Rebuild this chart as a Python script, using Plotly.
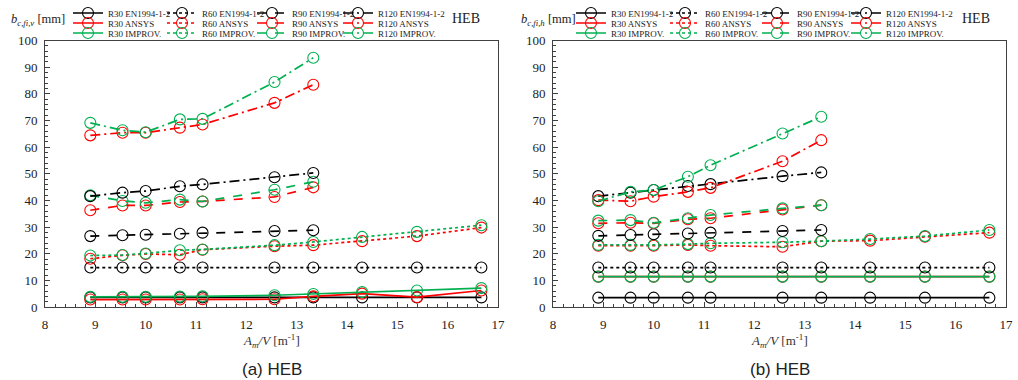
import plotly.graph_objects as go

# ---------------- data ----------------
X10 = [8.9, 9.54, 10.0, 10.68, 11.13, 12.56, 13.33, 14.3, 15.39, 16.67]
X7 = [8.9, 9.54, 10.0, 10.68, 11.13, 12.56, 13.33]

# (a) vertical direction  b_c,fi,v
R30_EN_v = [3.6, 3.6, 3.6, 3.6, 3.6, 3.6, 3.6, 3.6, 3.6, 3.6]
R30_ANSYS_v = [2.8, 2.8, 2.8, 2.8, 2.9, 2.9, 4.0, 5.0, 3.7, 6.2]
R30_IMP_v = [3.8, 3.8, 3.8, 3.9, 4.0, 4.4, 4.9, 5.6, 6.2, 7.1]
R60_EN_v = [14.8, 14.8, 14.8, 14.8, 14.8, 14.8, 14.8, 14.8, 14.8, 14.8]
R60_ANSYS_v = [18.1, 19.4, 19.9, 19.6, 21.5, 22.8, 23.2, 24.7, 26.6, 29.8]
R60_IMP_v = [19.3, 19.5, 20.1, 21.3, 21.6, 23.2, 24.4, 26.3, 28.2, 30.7]
R90_EN_v = [26.6, 26.9, 27.1, 27.5, 27.9, 28.5, 28.8]
R90_ANSYS_v = [36.3, 38.1, 38.1, 39.4, 39.6, 41.3, 44.9]
R90_IMP_v = [41.9, 39.8, 39.1, 40.3, 39.6, 44.0, 47.0]
R120_EN_v = [41.6, 42.9, 43.5, 45.3, 46.0, 48.7, 50.3]
R120_ANSYS_v = [64.4, 65.4, 65.4, 67.3, 68.5, 76.6, 83.4]
R120_IMP_v = [69.1, 66.3, 65.6, 70.4, 70.6, 84.4, 93.5]

# (b) horizontal direction  b_c,fi,h
R30_EN_h = [3.5, 3.5, 3.5, 3.5, 3.5, 3.5, 3.5, 3.5, 3.5, 3.5]
R30_ANSYS_h = [11.4, 11.4, 11.4, 11.4, 11.4, 11.4, 11.4, 11.4, 11.4, 11.4]
R30_IMP_h = [11.4, 11.4, 11.4, 11.4, 11.4, 11.4, 11.4, 11.4, 11.4, 11.4]
R60_EN_h = [14.8, 14.8, 14.8, 14.8, 14.8, 14.8, 14.8, 14.8, 14.8, 14.8]
R60_ANSYS_h = [23.0, 23.0, 23.0, 23.3, 23.0, 22.6, 24.7, 24.9, 26.4, 27.9]
R60_IMP_h = [23.3, 23.3, 23.3, 23.6, 23.9, 24.3, 24.7, 25.5, 26.6, 28.9]
R90_EN_h = [26.7, 27.0, 27.3, 27.6, 27.9, 28.5, 28.9]
R90_ANSYS_h = [31.4, 31.6, 31.4, 32.9, 33.3, 36.6, 38.2]
R90_IMP_h = [32.4, 32.6, 31.6, 33.3, 34.5, 37.0, 38.2]
R120_EN_h = [41.6, 42.9, 43.9, 45.4, 46.1, 49.1, 50.5]
R120_ANSYS_h = [40.1, 39.7, 41.4, 43.2, 44.7, 54.7, 62.6]
R120_IMP_h = [39.7, 43.2, 43.9, 48.9, 53.2, 65.1, 71.4]

RATINGS = ["R30", "R60", "R90", "R120"]
METHODS = ["EN1994-1-2", "ANSYS", "IMPROV."]

SERIES_V = {
    ("R30", "EN1994-1-2"): (X10, R30_EN_v), ("R30", "ANSYS"): (X10, R30_ANSYS_v), ("R30", "IMPROV."): (X10, R30_IMP_v),
    ("R60", "EN1994-1-2"): (X10, R60_EN_v), ("R60", "ANSYS"): (X10, R60_ANSYS_v), ("R60", "IMPROV."): (X10, R60_IMP_v),
    ("R90", "EN1994-1-2"): (X7, R90_EN_v), ("R90", "ANSYS"): (X7, R90_ANSYS_v), ("R90", "IMPROV."): (X7, R90_IMP_v),
    ("R120", "EN1994-1-2"): (X7, R120_EN_v), ("R120", "ANSYS"): (X7, R120_ANSYS_v), ("R120", "IMPROV."): (X7, R120_IMP_v),
}
SERIES_H = {
    ("R30", "EN1994-1-2"): (X10, R30_EN_h), ("R30", "ANSYS"): (X10, R30_ANSYS_h), ("R30", "IMPROV."): (X10, R30_IMP_h),
    ("R60", "EN1994-1-2"): (X10, R60_EN_h), ("R60", "ANSYS"): (X10, R60_ANSYS_h), ("R60", "IMPROV."): (X10, R60_IMP_h),
    ("R90", "EN1994-1-2"): (X7, R90_EN_h), ("R90", "ANSYS"): (X7, R90_ANSYS_h), ("R90", "IMPROV."): (X7, R90_IMP_h),
    ("R120", "EN1994-1-2"): (X7, R120_EN_h), ("R120", "ANSYS"): (X7, R120_ANSYS_h), ("R120", "IMPROV."): (X7, R120_IMP_h),
}

# ---------------- styles ----------------
W, H = 1018, 380
COLORS = {"EN1994-1-2": "#000000", "ANSYS": "#FF0000", "IMPROV.": "#00B050"}
DASH = {"R30": "solid", "R60": "dot", "R90": "dash", "R120": "10px,4px,2px,4px"}
SERIF = "Liberation Serif, Times New Roman, serif"
SANS = "Liberation Sans, Arial, sans-serif"

def px_x(p):
    return p / W

def px_y(p):
    return 1 - p / H

# panel pixel boxes: (left, right, top, bottom)
PANELS = [(45, 498, 40.5, 307), (553, 1006, 40.5, 307)]

# legend column text x positions (px) per panel, row y (px)
LEG_TEXT_X = [[108, 202, 292, 378], [611, 705, 797, 886]]
LEG_ROW_Y = [13, 23, 33]

fig = go.Figure()
legend_layouts = {}
leg_idx = 0
for pi, series in enumerate([SERIES_V, SERIES_H]):
    xa = "x" if pi == 0 else "x2"
    ya = "y" if pi == 0 else "y2"
    for ci, r in enumerate(RATINGS):
        for mi, m in enumerate(METHODS):
            leg_idx += 1
            lname = "legend" if leg_idx == 1 else f"legend{leg_idx}"
            xs, ys = series[(r, m)]
            fig.add_trace(go.Scatter(
                x=xs, y=ys, xaxis=xa, yaxis=ya,
                mode="lines+markers",
                name=f"{r} {m}",
                line=dict(color=COLORS[m], width=1.7, dash=DASH[r]),
                marker=dict(symbol="circle-open", size=11, color=COLORS[m], line=dict(width=1.1, color=COLORS[m])),
                legend=lname, showlegend=True,
            ))
            legend_layouts[lname] = dict(
                x=px_x(LEG_TEXT_X[pi][ci] - 40), xanchor="left",
                y=px_y(LEG_ROW_Y[mi]), yanchor="middle",
                bgcolor="rgba(0,0,0,0)", borderwidth=0,
                font=dict(family=SERIF, size=9, color="#222222"),
                itemwidth=30, tracegroupgap=0,
            )

axis_common = dict(
    showgrid=False, zeroline=False, showline=True, linecolor="#404040", linewidth=1,
    mirror=True, ticks="inside", ticklen=5, tickcolor="#404040", tickwidth=1,
    tickfont=dict(family=SERIF, size=13, color="#222222"),
)

layout = dict(
    width=W, height=H, margin=dict(l=0, r=0, t=0, b=0, autoexpand=False),
    paper_bgcolor="white", plot_bgcolor="white",
    showlegend=True,
)
for pi, (l, r, t, b) in enumerate(PANELS):
    sx = "" if pi == 0 else "2"
    layout[f"xaxis{sx}"] = dict(
        axis_common, domain=[px_x(l), px_x(r)], range=[8, 17], dtick=1, tick0=8,
        anchor=f"y{sx}", ticklabelstandoff=5,
        minor=dict(dtick=0.2, ticks="inside", ticklen=3, tickcolor="#404040"),
    )
    layout[f"yaxis{sx}"] = dict(
        axis_common, domain=[px_y(b), px_y(t)], range=[0, 100], dtick=10, tick0=0,
        anchor=f"x{sx}", ticklabelstandoff=4,
        minor=dict(dtick=2, ticks="inside", ticklen=3, tickcolor="#404040"),
    )
layout.update(legend_layouts)

annotations = []
YLAB = ["<i>b</i><sub><i>c,fi,v</i></sub> [mm]", "<i>b</i><sub><i>c,fi,h</i></sub> [mm]"]
YLAB_X = [9, 519]
HEB_X = [466, 976]
CAPTION = ["(a) HEB", "(b) HEB"]
for pi, (l, r, t, b) in enumerate(PANELS):
    cx = (l + r) / 2
    annotations.append(dict(text=YLAB[pi], x=px_x(YLAB_X[pi]), y=px_y(20), xref="paper", yref="paper",
                            xanchor="left", yanchor="middle", showarrow=False,
                            font=dict(family=SERIF, size=12.5, color="#222222")))
    annotations.append(dict(text="HEB", x=px_x(HEB_X[pi]), y=px_y(18), xref="paper", yref="paper",
                            xanchor="center", yanchor="middle", showarrow=False,
                            font=dict(family=SERIF, size=14, color="#222222")))
    annotations.append(dict(text="<i>A<sub>m</sub>/V</i> [m<sup>-1</sup>]", x=px_x(cx), y=px_y(341),
                            xref="paper", yref="paper", xanchor="center", yanchor="middle", showarrow=False,
                            font=dict(family=SERIF, size=13, color="#333333")))
    annotations.append(dict(text=CAPTION[pi], x=px_x(cx), y=px_y(369), xref="paper", yref="paper",
                            xanchor="center", yanchor="middle", showarrow=False,
                            font=dict(family=SANS, size=17, color="#222222")))
layout["annotations"] = annotations

fig.update_layout(**layout)
fig.write_html("out.html")
